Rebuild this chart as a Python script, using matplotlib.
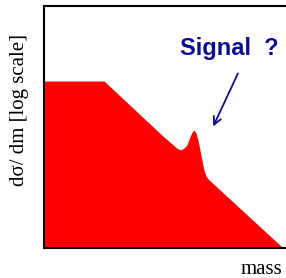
import matplotlib
matplotlib.use("Agg")
import matplotlib.pyplot as plt

# data (mass in arbitrary units, cross section on log scale)
mass = [0, 24.4, 49.2, 52.5, 53.8, 55.3, 56.6, 58.1, 59.3, 60.2, 61.0, 61.8,
        62.6, 63.4, 64.2, 65.0, 65.9, 66.7, 97.2]
xsec = [13800, 13800, 534, 360, 305, 272, 290, 358, 565, 752, 843, 711,
        476, 269, 152, 86, 61, 51.4, 1.0]
arrow_tail = (79.3, 24500)
arrow_tip = (68.3, 893)

W, H = 286, 278
fig = plt.figure(figsize=(W / 100, H / 100), dpi=100)
ax = fig.add_axes([44 / W, (H - 248) / H, 246 / W, 242 / H])
ax.set_yscale("log")
ax.set_xlim(0, 100)
ax.set_ylim(1, 1e6)
ax.fill_between(mass, xsec, 1, color="#ff0000", lw=0)
ax.set_xticks([])
ax.set_yticks([])
ax.minorticks_off()
ax.spines["right"].set_visible(False)
for s in ("left", "top", "bottom"):
    ax.spines[s].set_linewidth(1.5)

navy = "#0c0c8e"
ax.annotate("", xy=arrow_tip, xytext=arrow_tail,
            arrowprops=dict(arrowstyle="->", color=navy, lw=1.3, mutation_scale=14))

fig.text(229 / W, (H - 55) / H, "Signal  ?", color=navy, fontsize=17,
         fontweight="bold", family="Liberation Sans", ha="center", va="baseline")
fig.text(282 / W, (H - 274) / H, "mass", fontsize=15, family="Liberation Serif",
         ha="right", va="baseline")
fig.text(20 / W, (H - 110) / H, "dσ/ dm [log scale]", fontsize=15,
         family="Liberation Serif", rotation=90, ha="center", va="center")

fig.savefig("out.png", dpi=100)
